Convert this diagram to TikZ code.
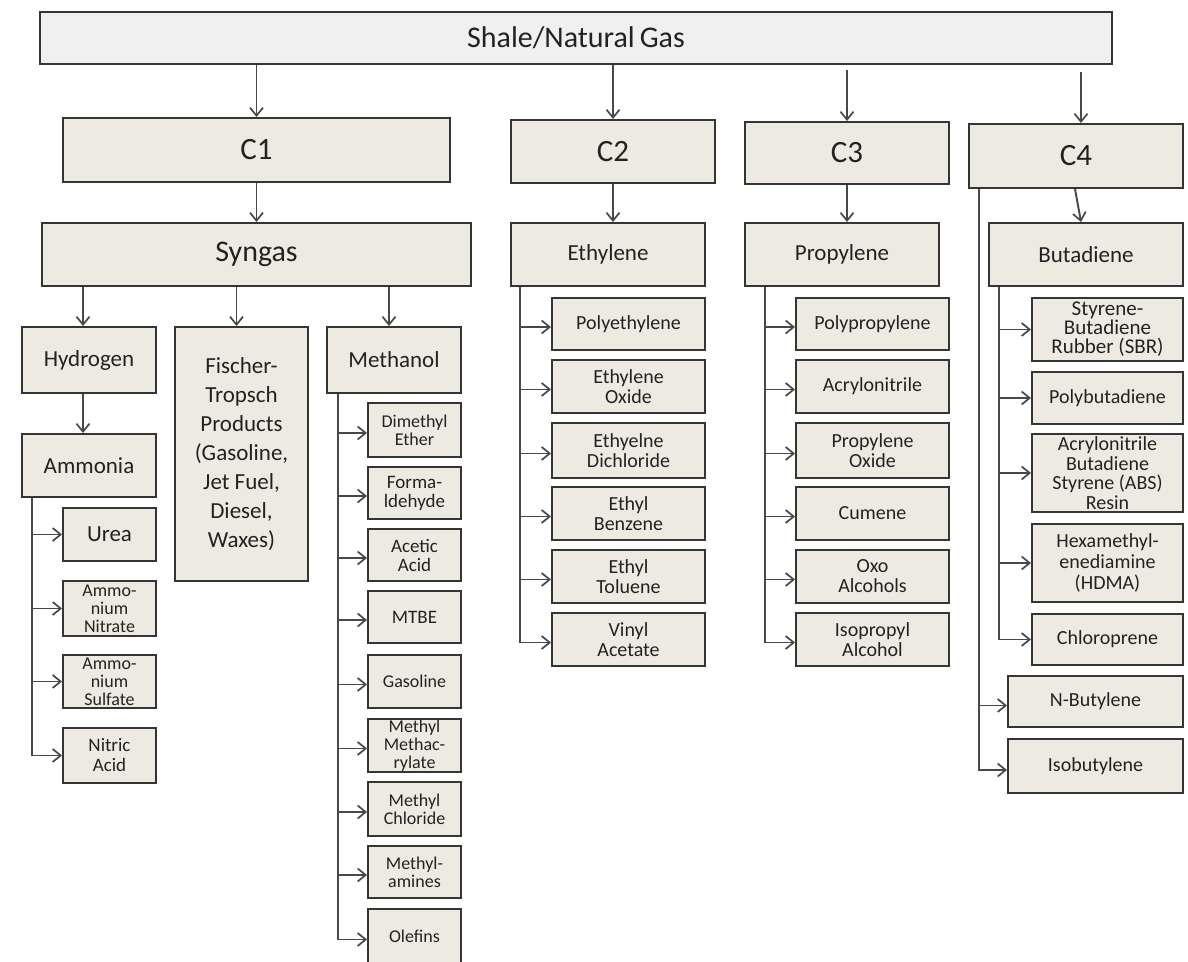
\documentclass[tikz,border=0pt]{standalone}
\usepackage{fontspec}
\setmainfont{Carlito}
\usetikzlibrary{arrows.meta}

\definecolor{boxfill}{HTML}{EDEBE1}
\definecolor{topfill}{HTML}{F0F0F0}
\definecolor{boxedge}{HTML}{353535}
\definecolor{linkcol}{HTML}{484848}
\definecolor{ink}{HTML}{222222}

\newcommand{\fsz}[2]{\fontsize{#1}{#2}\selectfont}
% \bx[style]{left}{top}{right}{bottom}{name}{label}
\newcommand{\bx}[7][]{\node[box,#1,minimum width={#4-#2},minimum height={#5-#3}] (#6) at ({(#2+#4)/2},{(#3+#5)/2}) {#7};}

\tikzset{
  box/.style={draw=boxedge, line width=2pt, fill=boxfill, inner sep=0pt,
              align=center, text=ink, font=\fsz{20}{20}},
  topbox/.style={fill=topfill, font=\fsz{30}{34}},
  huge/.style={font=\fsz{31}{34}},
  mid/.style={font=\fsz{23}{29}},
  small/.style={font=\fsz{18}{18}},
  arr/.style={draw=linkcol, line width=1.9pt,
              -{Straight Barb[length=8pt,width=13pt,line width=1.7pt]}},
}

\begin{document}
\begin{tikzpicture}[x=1pt,y=-1pt]
\fill[white] (0,0) rectangle (1188,961);
\useasboundingbox (0,0) rectangle (1188,961);

% source and carbon-number groups
\bx[topbox]{40}{12}{1112}{64}{top}{Shale/Natural\,Gas}
\bx[huge]{63}{118}{450}{182}{c1}{C1}
\bx[huge]{511}{120}{715}{183}{c2}{C2}
\bx[huge]{745}{122}{949}{184}{c3}{C3}
\bx[huge]{969}{124}{1183}{188}{c4}{C4}

% primary intermediates
\bx[font=\fsz{30}{34}]{42}{223}{471}{286}{syngas}{Syngas}
\bx[mid]{511}{223}{705}{286}{ethylene}{Ethylene}
\bx[mid]{745}{223}{939}{286}{propylene}{Propylene}
\bx[mid]{989}{223}{1183}{286}{butadiene}{Butadiene}

% syngas branch
\bx[mid]{22}{327}{156}{393}{hydrogen}{Hydrogen}
\bx[mid]{175}{327}{308}{581}{ft}{Fischer-\\Tropsch\\Products\\(Gasoline,\\Jet Fuel,\\Diesel,\\Waxes)}
\bx[mid]{327}{327}{461}{393}{methanol}{Methanol}
\bx[mid]{22}{434}{156}{497}{ammonia}{Ammonia}

% ammonia derivatives
\bx[font=\fsz{23}{24}]{63}{508}{156}{561}{urea}{Urea}
\bx[small]{63}{581}{156}{636}{amnit}{Ammo-\\nium\\Nitrate}
\bx[small]{63}{655}{156}{708}{amsul}{Ammo-\\nium\\Sulfate}
\bx[font=\fsz{19}{20}]{63}{728}{156}{783}{nitric}{Nitric\\Acid}

% methanol derivatives
\bx[small]{368}{403}{461}{457}{dme}{Dimethyl\\Ether}
\bx[font=\fsz{19}{19}]{368}{467}{461}{519}{form}{Forma-\\ldehyde}
\bx[font=\fsz{19}{19}]{368}{529}{461}{581}{acetic}{Acetic\\Acid}
\bx[font=\fsz{19}{19}]{368}{591}{461}{643}{mtbe}{MTBE}
\bx[small]{368}{655}{461}{708}{gasoline}{Gasoline}
\bx[small]{368}{719}{461}{772}{mma}{Methyl\\Methac-\\rylate}
\bx[small]{368}{782}{461}{836}{mecl}{Methyl\\Chloride}
\bx[small]{368}{846}{461}{898}{mea}{Methyl-\\amines}
\bx[small]{368}{909}{461}{964}{olefins}{Olefins}

% ethylene derivatives
\bx{552}{298}{705}{350}{pe}{Polyethylene}
\bx{552}{360}{705}{413}{eo}{Ethylene\\Oxide}
\bx{552}{423}{705}{478}{edc}{Ethyelne\\Dichloride}
\bx{552}{487}{705}{540}{eb}{Ethyl\\Benzene}
\bx{552}{550}{705}{603}{et}{Ethyl\\Toluene}
\bx{552}{613}{705}{666}{va}{Vinyl\\Acetate}

% propylene derivatives
\bx{796}{298}{949}{350}{pp}{Polypropylene}
\bx{796}{360}{949}{413}{acn}{Acrylonitrile}
\bx{796}{423}{949}{478}{po}{Propylene\\Oxide}
\bx{796}{487}{949}{540}{cumene}{Cumene}
\bx{796}{550}{949}{603}{oxo}{Oxo\\Alcohols}
\bx{796}{613}{949}{666}{ipa}{Isopropyl\\Alcohol}

% butadiene derivatives
\bx[font=\fsz{21}{19}]{1032}{298}{1183}{361}{sbr}{Styrene-\\Butadiene\\Rubber (SBR)}
\bx{1032}{372}{1183}{424}{pbd}{Polybutadiene}
\bx[font=\fsz{20}{19.5}]{1032}{434}{1183}{512}{abs}{Acrylonitrile\\Butadiene\\Styrene (ABS)\\Resin}
\bx[font=\fsz{20}{21}]{1032}{524}{1183}{602}{hdma}{Hexamethyl-\\enediamine\\(HDMA)}
\bx{1032}{614}{1183}{665}{chloro}{Chloroprene}

% other C4 products
\bx{1008}{676}{1183}{727}{nbut}{N-Butylene}
\bx{1008}{739}{1183}{793}{isob}{Isobutylene}

% feed to carbon-number groups
\draw[arr] (c1.north |- top.south) -- (c1.north);
\draw[arr] (c2.north |- top.south) -- (c2.north);
\draw[arr] ([yshift=-5pt]c3.north |- top.south) -- (c3.north);
\draw[arr] ([xshift=5pt,yshift=-7pt]c4.north |- top.south) -- ([xshift=5pt]c4.north);

% groups to primary intermediates
\draw[arr] (c1.south) -- (c1.south |- syngas.north);
\draw[arr] (c2.south) -- (c2.south |- ethylene.north);
\draw[arr] (c3.south) -- (c3.south |- propylene.north);
\draw[arr] ([xshift=-1pt]c4.south) -- ([xshift=-5pt]butadiene.north);

% syngas routes
\draw[arr] ([xshift=-6pt]hydrogen.north |- syngas.south) -- ([xshift=-6pt]hydrogen.north);
\draw[arr] ([xshift=-5pt]ft.north |- syngas.south) -- ([xshift=-5pt]ft.north);
\draw[arr] ([xshift=-5pt]methanol.north |- syngas.south) -- ([xshift=-5pt]methanol.north);
\draw[arr] ([xshift=-6pt]hydrogen.south) -- ([xshift=-6pt]ammonia.north);

% trunk-and-branch lists
\foreach \n in {urea,amnit,amsul,nitric}
  \draw[arr] ([xshift=11pt]ammonia.south west) |- (\n.west);
\foreach \n in {dme,form,acetic,mtbe,gasoline,mma,mecl,mea,olefins}
  \draw[arr] ([xshift=12pt]methanol.south west) |- ([yshift=-3pt]\n.west);
\foreach \n in {pe,eo,edc,eb,et,va}
  \draw[arr] ([xshift=10pt]ethylene.south west) |- ([yshift=-3pt]\n.west);
\foreach \n in {pp,acn,po,cumene,oxo,ipa}
  \draw[arr] ([xshift=21pt]propylene.south west) |- ([yshift=-3pt]\n.west);
\foreach \n in {sbr,pbd,abs,hdma,chloro}
  \draw[arr] ([xshift=11pt]butadiene.south west) |- (\n.west);
\foreach \n in {nbut,isob}
  \draw[arr] ([xshift=11pt]c4.south west) |- ([yshift=-4pt]\n.west);
\end{tikzpicture}
\end{document}
